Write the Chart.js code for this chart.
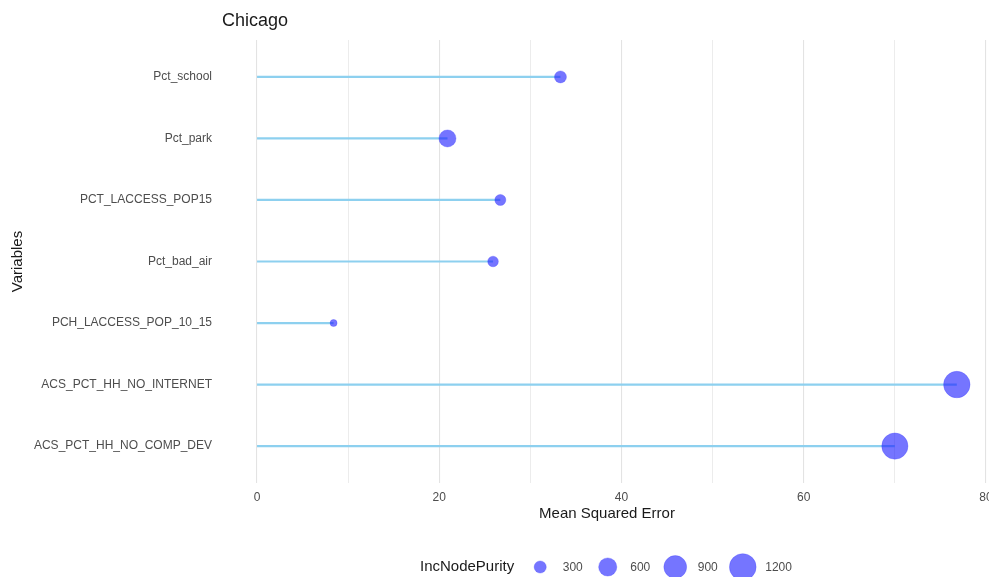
<!DOCTYPE html>
<html>
<head>
<meta charset="utf-8">
<script src="https://cdn.jsdelivr.net/npm/chart.js@4.4.1/dist/chart.umd.min.js"></script>
<style>
  html, body { margin: 0; padding: 0; background: #ffffff; overflow: hidden; }
  #wrap { width: 1010px; height: 577px; }
</style>
</head>
<body>
<div id="wrap"><canvas id="c" width="1010" height="577"></canvas></div>
<script>
// ---- data ----
const chartTitle = 'Chicago';
const categories = ['Pct_school', 'Pct_park', 'PCT_LACCESS_POP15', 'Pct_bad_air', 'PCH_LACCESS_POP_10_15', 'ACS_PCT_HH_NO_INTERNET', 'ACS_PCT_HH_NO_COMP_DEV'];
const meanSquaredError = [33.3, 20.9, 26.7, 25.9, 8.4, 76.8, 70.0];
const incNodePurity = [294, 535, 256, 240, 126, 1180, 1160];
const xTickLabels = [0, 20, 40, 60, 80];
const legendSizes = [300, 600, 900, 1200];

const FONT = '"Liberation Sans", Arial, Helvetica, sans-serif';
const DOT = 'rgba(25,25,255,0.6)';
const radius = v => 0.42 * Math.sqrt(v) - 1.2;

const segments = categories.map((c, i) => ({
  type: 'line',
  data: [{x: 0, y: i}, {x: meanSquaredError[i], y: i}],
  borderColor: '#8dd0ef',
  borderWidth: 2.2,
  pointRadius: 0,
  order: 2
}));

const bubbles = {
  type: 'bubble',
  data: categories.map((c, i) => ({x: meanSquaredError[i], y: i, r: radius(incNodePurity[i])})),
  backgroundColor: DOT,
  borderColor: 'rgba(60,60,255,0.6)',
  borderWidth: 0.5,
  order: 1
};

const titlePlugin = {
  id: 'ggtitle',
  afterDraw(chart) {
    const ctx = chart.ctx;
    ctx.save();
    ctx.font = '18px ' + FONT;
    ctx.fillStyle = '#1a1a1a';
    ctx.textBaseline = 'middle';
    ctx.textAlign = 'left';
    ctx.fillText(chartTitle, chart.chartArea.left, 21);
    ctx.restore();
  }
};

const sizeLegend = {
  id: 'sizeLegend',
  afterDraw(chart) {
    const ctx = chart.ctx;
    ctx.save();
    ctx.textBaseline = 'middle';
    ctx.textAlign = 'left';
    ctx.font = '15px ' + FONT;
    const titleW = ctx.measureText('IncNodePurity').width;
    ctx.font = '12px ' + FONT;
    const gapTitle = 10, keyHalf = 16, toLabel = 22.5, afterLabel = 25;
    const widths = legendSizes.map(s => ctx.measureText(String(s)).width);
    const ca = chart.chartArea;
    let x = ca.left + 198;
    ctx.font = '15px ' + FONT;
    ctx.fillStyle = '#1a1a1a';
    ctx.fillText('IncNodePurity', x, 566.5);
    let cx = x + titleW + gapTitle + keyHalf;
    legendSizes.forEach((s, i) => {
      ctx.beginPath();
      ctx.arc(cx, 567, radius(s), 0, Math.PI * 2);
      ctx.fillStyle = DOT;
      ctx.fill();
      ctx.lineWidth = 0.5;
      ctx.strokeStyle = 'rgba(60,60,255,0.6)';
      ctx.stroke();
      ctx.font = '12px ' + FONT;
      ctx.fillStyle = '#4d4d4d';
      const lx = cx + toLabel;
      ctx.fillText(String(s), lx, 568);
      cx = lx + widths[i] + afterLabel;
    });
    ctx.restore();
  }
};

new Chart(document.getElementById('c'), {
  type: 'bubble',
  data: { datasets: [...segments, bubbles] },
  options: {
    responsive: false,
    animation: false,
    layout: { padding: { top: 40, right: 18, bottom: 49, left: 0 } },
    plugins: { legend: { display: false }, tooltip: { enabled: false }, title: { display: false } },
    scales: {
      x: {
        type: 'linear',
        position: 'bottom',
        min: -3.846,
        max: 80.66,
        afterBuildTicks: s => {
          const t = [];
          for (let v = 0; v <= 80; v += 10) t.push({value: v});
          s.ticks = t;
        },
        afterFit: s => { s.height = 45; },
        border: { display: false },
        grid: {
          drawTicks: false,
          color: c => (c.tick && xTickLabels.includes(c.tick.value)) ? '#e3e3e3' : '#ececec',
          lineWidth: c => (c.tick && xTickLabels.includes(c.tick.value)) ? 1.1 : 1
        },
        ticks: {
          autoSkip: false,
          maxRotation: 0,
          padding: 7,
          color: '#4d4d4d',
          font: { family: FONT, size: 12 },
          callback: v => xTickLabels.includes(v) ? String(v) : ''
        },
        title: {
          display: true,
          text: 'Mean Squared Error',
          color: '#1a1a1a',
          font: { family: FONT, size: 15 },
          padding: { top: 0, bottom: 5 }
        }
      },
      y: {
        type: 'linear',
        reverse: true,
        min: -0.6,
        max: categories.length - 0.4,
        afterBuildTicks: s => { s.ticks = categories.map((c, i) => ({value: i})); },
        afterFit: s => { s.width = 222; },
        border: { display: false },
        grid: { display: false, drawTicks: false },
        ticks: {
          autoSkip: false,
          padding: 10,
          color: '#4d4d4d',
          font: { family: FONT, size: 12 },
          callback: v => categories[v]
        },
        title: {
          display: true,
          text: 'Variables',
          color: '#1a1a1a',
          font: { family: FONT, size: 15 },
          padding: { top: 9, bottom: 0 }
        }
      }
    }
  },
  plugins: [titlePlugin, sizeLegend]
});
</script>
</body>
</html>
